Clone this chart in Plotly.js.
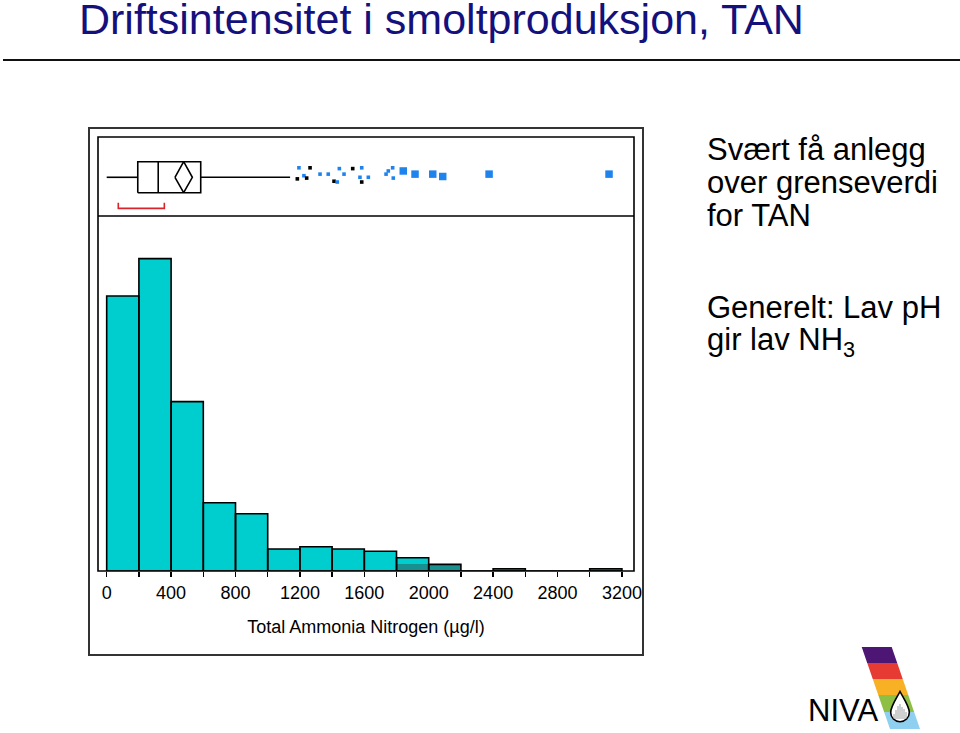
<!DOCTYPE html>
<html>
<head>
<meta charset="utf-8">
<script src="https://cdn.plot.ly/plotly-3.0.1.min.js"></script>
<style>html,body{margin:0;padding:0;background:#fff;}#chart{width:960px;height:733px;}</style>
</head>
<body>
<div id="chart"></div>
<script>
// ---------- DATA ----------
const binStarts = [0,200,400,600,800,1000,1200,1400,1600,1800,2000,2200,2400,2600,2800,3000];
const binWidth = 200;
const counts = [125,142,77,31,26,10,11,10,9,6,3,0,1,0,0,1];
const selectedCounts = [0,0,0,0,0,0,0,0,0,3,3,0,1,0,0,1];

const tickValues = [0,400,800,1200,1600,2000,2400,2800,3200];

// box plot statistics (µg/l)
const whiskerLo = 0, q1 = 193, median = 320, q3 = 584, whiskerHi = 1139;
const mean = 478, meanCiLo = 424, meanCiHi = 532;
const shortestHalfLo = 72, shortestHalfHi = 358;

// outliers (value, jitter within box panel, group)
const outlierX = [1194,1263,1184,1225,1242,1325,1376,1445,1474,1412,1432,1528,1584,1573,1584,1625,1735,1749,1776,1780];
const outlierJitter = [0.61,0.61,0.47,0.51,0.48,0.53,0.53,0.60,0.53,0.44,0.43,0.60,0.61,0.49,0.43,0.49,0.53,0.57,0.61,0.48];
const outlierGroup = ['b','k','k','b','k','b','b','b','b','k','b','k','b','b','k','b','b','b','b','b'];
const bigOutlierX = [1842,1915,2025,2087,2375,3120];
const bigOutlierJitter = [0.57,0.53,0.53,0.50,0.53,0.53];

// ---------- GEOMETRY HELPERS (pixel -> paper) ----------
const L = 98, R = 634, T = 137, B = 571;
const px = X => (X - L) / (R - L);
const py = Y => (B - Y) / (B - T);
const split = py(216);

const centers = binStarts.map(s => s + binWidth/2);
const TEAL = '#00cdcd', DARK = '#17908f', BLUE = '#1f83ee';
const font = '"Liberation Sans", Arial, sans-serif';

const traces = [];
traces.push({type:'bar', x:centers, y:counts, width:binWidth, marker:{color:TEAL, line:{width:0}}, xaxis:'x', yaxis:'y', hoverinfo:'skip'});
traces.push({type:'bar', x:centers, y:selectedCounts, width:binWidth, marker:{color:DARK, line:{width:0}}, xaxis:'x', yaxis:'y', hoverinfo:'skip'});
traces.push({type:'bar', x:centers, y:counts, width:binWidth, marker:{color:'rgba(0,0,0,0)', line:{width:1.6, color:'#000'}}, xaxis:'x', yaxis:'y', hoverinfo:'skip'});

// box plot
const boxBot = 0.295, boxTop = 0.687, boxMid = 0.49;
traces.push({type:'scatter', mode:'lines', xaxis:'x', yaxis:'y2',
  x:[whiskerLo, q1, null, q3, whiskerHi], y:[boxMid,boxMid,null,boxMid,boxMid], line:{color:'#000', width:1.6}, hoverinfo:'skip'});
traces.push({type:'scatter', mode:'lines', xaxis:'x', yaxis:'y2',
  x:[q1,q3,q3,q1,q1,null,median,median], y:[boxBot,boxBot,boxTop,boxTop,boxBot,null,boxBot,boxTop], line:{color:'#000', width:1.6}, hoverinfo:'skip'});
traces.push({type:'scatter', mode:'lines', xaxis:'x', yaxis:'y2',
  x:[meanCiLo, mean, meanCiHi, mean, meanCiLo], y:[boxMid, boxTop, boxMid, boxBot, boxMid], line:{color:'#000', width:1.6}, hoverinfo:'skip'});
traces.push({type:'scatter', mode:'lines', xaxis:'x', yaxis:'y2',
  x:[shortestHalfLo, shortestHalfLo, shortestHalfHi, shortestHalfHi], y:[0.168,0.097,0.097,0.168], line:{color:'#d9252a', width:1.6}, hoverinfo:'skip'});
traces.push({type:'scatter', mode:'markers', xaxis:'x', yaxis:'y2',
  x:outlierX, y:outlierJitter,
  marker:{symbol:'square', size:3.6, color:outlierGroup.map(g => g==='k' ? '#000' : BLUE)}, hoverinfo:'skip'});
traces.push({type:'scatter', mode:'markers', xaxis:'x', yaxis:'y2',
  x:bigOutlierX, y:bigOutlierJitter, marker:{symbol:'square', size:7.5, color:BLUE}, hoverinfo:'skip'});

// ---------- SHAPES ----------
const shapes = [];
shapes.push({type:'rect', xref:'paper', yref:'paper', x0:0, x1:1, y0:0, y1:1, line:{color:'#000', width:1.6}, layer:'above'});
shapes.push({type:'line', xref:'paper', yref:'paper', x0:0, x1:1, y0:split, y1:split, line:{color:'#000', width:1.6}, layer:'above'});
shapes.push({type:'rect', xref:'paper', yref:'paper', x0:px(89), x1:px(643), y0:py(655), y1:py(128), line:{color:'#333', width:2}});
shapes.push({type:'line', xref:'paper', yref:'paper', x0:px(3), x1:px(960), y0:py(60), y1:py(60), line:{color:'#111', width:2.2}});

const stripeColors = ['#4d1574','#e63b33','#f8b024','#8dbf45','#8fcff0'];
const bandY = [647,663,679,695,712,729];
const Lx = y => 861.7 + 0.345*(y-647);
for (let i=0;i<5;i++){
  const y0 = bandY[i], y1 = bandY[i+1];
  const p = [[Lx(y0),y0],[Lx(y0)+30,y0],[Lx(y1)+30,y1],[Lx(y1),y1]];
  shapes.push({type:'path', xref:'paper', yref:'paper', fillcolor:stripeColors[i], line:{width:0},
    path:'M'+p.map(q=>px(q[0])+','+py(q[1])).join(' L')+' Z'});
}
(function(){
  const cx=900, cy=712.4, r=9.3, tipY=691.5, k=0.5523*r;
  const P=(x,y)=>px(x)+','+py(y);
  const path = 'M'+P(cx,tipY)+
    ' C'+P(cx+3,tipY+6)+' '+P(cx+r,cy-6)+' '+P(cx+r,cy)+
    ' C'+P(cx+r,cy+k)+' '+P(cx+k,cy+r)+' '+P(cx,cy+r)+
    ' C'+P(cx-k,cy+r)+' '+P(cx-r,cy+k)+' '+P(cx-r,cy)+
    ' C'+P(cx-r,cy-6)+' '+P(cx-3,tipY+6)+' '+P(cx,tipY)+' Z';
  shapes.push({type:'path', xref:'paper', yref:'paper', fillcolor:'#fff', line:{color:'#000', width:1.6}, path:path});
  const bars = [[894,714],[896,710],[898,706],[900,704],[902,707],[904,709],[906,712]];
  bars.forEach(b=>{
    shapes.push({type:'line', xref:'paper', yref:'paper', x0:px(b[0]), x1:px(b[0]), y0:py(b[1]), y1:py(719), line:{color:'#888', width:0.8}});
  });
})();

// ---------- ANNOTATIONS ----------
const sideLines = [
  ['Svært få anlegg', 149],
  ['over grenseverdi', 182],
  ['for TAN', 215],
  ['Generelt: Lav pH', 307],
  ['gir lav NH<sub>3</sub>', 342]
];
const annotations = sideLines.map(s => ({
  text:s[0], xref:'paper', yref:'paper', x:px(705), y:py(s[1]), xanchor:'left', yanchor:'middle',
  showarrow:false, font:{family:font, size:31, color:'#000'}
}));
annotations.push({text:'NIVA', xref:'paper', yref:'paper', x:px(806), y:py(710), xanchor:'left', yanchor:'middle',
  showarrow:false, font:{family:font, size:31, color:'#000'}});

const layout = {
  width:960, height:733,
  paper_bgcolor:'#fff', plot_bgcolor:'#fff',
  margin:{l:L, r:960-R, t:T, b:733-B, pad:0},
  showlegend:false, barmode:'overlay', bargap:0,
  font:{family:font, color:'#000'},
  title:{text:'Driftsintensitet i smoltproduksjon, TAN', xref:'container', yref:'container',
    x:79/960, xanchor:'left', y:1-19/733, yanchor:'middle', font:{family:font, size:43, color:'#14117d'}},
  xaxis:{range:[-54,3275], tickvals:tickValues, ticks:'outside', ticklen:5, tickwidth:1.5, tickcolor:'#000',
    minor:{tick0:0, dtick:200, ticks:'outside', ticklen:5, tickwidth:1.5, tickcolor:'#000'},
    showgrid:false, zeroline:false, showline:false, tickfont:{family:font, size:18, color:'#000'},
    title:{text:'Total Ammonia Nitrogen (µg/l)', font:{family:font, size:18, color:'#000'}, standoff:18},
    anchor:'y'},
  yaxis:{domain:[0, split], range:[0, (B-216)/2.2], visible:false, fixedrange:true},
  yaxis2:{domain:[split, 1], range:[0,1], visible:false},
  shapes:shapes, annotations:annotations, hovermode:false
};

Plotly.newPlot('chart', traces, layout, {displayModeBar:false, staticPlot:true});
</script>
</body>
</html>
